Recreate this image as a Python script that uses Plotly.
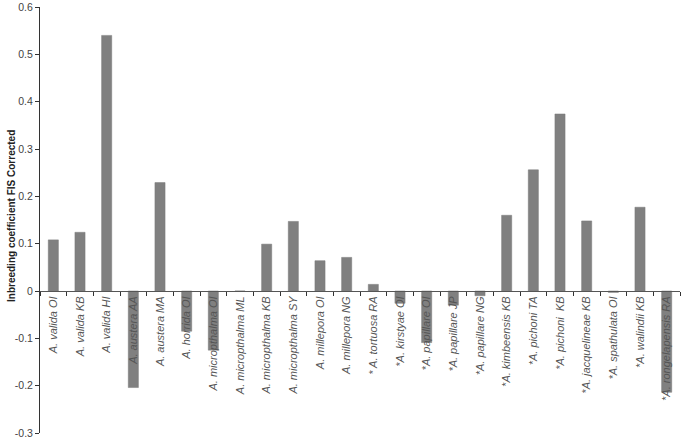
import plotly.graph_objects as go

categories = [
    "A. valida OI", "A. valida KB", "A. valida HI", "A. austera AA", "A. austera MA",
    "A. horrida OI", "A. micropthalma OI", "A. micropthalma ML", "A. micropthalma KB",
    "A. micropthalma SY", "A. millepora OI", "A. millepora NG", "* A. tortuosa RA",
    "*A. kirstyae OI", "*A. papillare OI", "*A. papillare JP", "*A. papillare NG",
    "*A. kimbeensis KB", "*A. pichoni TA", "*A. pichoni  KB", "*A. jacquelineae KB",
    "*A. spathulata OI", "*A. walindii KB", "*A. rongelapensis RA",
]
fis_values = [
    0.108, 0.124, 0.540, -0.204, 0.229,
    -0.085, -0.125, 0.0, 0.099,
    0.147, 0.064, 0.071, 0.014,
    -0.026, -0.109, -0.030, -0.010,
    0.160, 0.256, 0.374, 0.148,
    -0.003, 0.177, -0.214,
]
y_ticks = [0.6, 0.5, 0.4, 0.3, 0.2, 0.1, 0, -0.1, -0.2, -0.3]
y_tick_text = ["0.6", "0.5", "0.4", "0.3", "0.2", "0.1", "0", "-0.1", "-0.2", "-0.3"]

labels = ["<i>" + c.replace("  ", "\u00a0 ") + "</i>" for c in categories]

fig = go.Figure(go.Bar(
    x=labels, y=fis_values,
    marker=dict(color="#808080", line=dict(color="#7a7a7a", width=0.5)),
))

ymin, ymax = -0.3, 0.6
fig.update_layout(
    width=683, height=440,
    margin=dict(l=40, r=3, t=7, b=7),
    paper_bgcolor="white", plot_bgcolor="white",
    font=dict(family="Liberation Sans, Arial, sans-serif", color="#333"),
    bargap=0.62,
    showlegend=False,
    xaxis=dict(
        anchor="free", position=(0 - ymin) / (ymax - ymin), automargin=False,
        showline=True, linecolor="#555", linewidth=1,
        ticks="outside", tickson="boundaries", ticklen=4, tickcolor="#333",
        tickangle=-90, tickfont=dict(size=11, color="#555"),
        showgrid=False, zeroline=False,
    ),
    yaxis=dict(
        range=[ymin, ymax], domain=[0, 1], automargin=False,
        tickvals=y_ticks, ticktext=y_tick_text,
        showline=True, linecolor="#333", linewidth=1,
        ticks="outside", ticklen=4, tickcolor="#333",
        tickfont=dict(size=10.5, color="#444"),
        showgrid=False, zeroline=False,
    ),
    annotations=[dict(
        text="<b>Inbreeding coefficient FIS Corrected</b>",
        xref="paper", yref="paper", x=0, y=(433 - 216) / 426,
        xanchor="center", yanchor="middle", xshift=-29,
        textangle=-90, showarrow=False,
        font=dict(size=10, color="#222"),
    )],
)

fig.write_html("out.html", config={"displayModeBar": False},
               post_script="document.body.style.margin='0';")
